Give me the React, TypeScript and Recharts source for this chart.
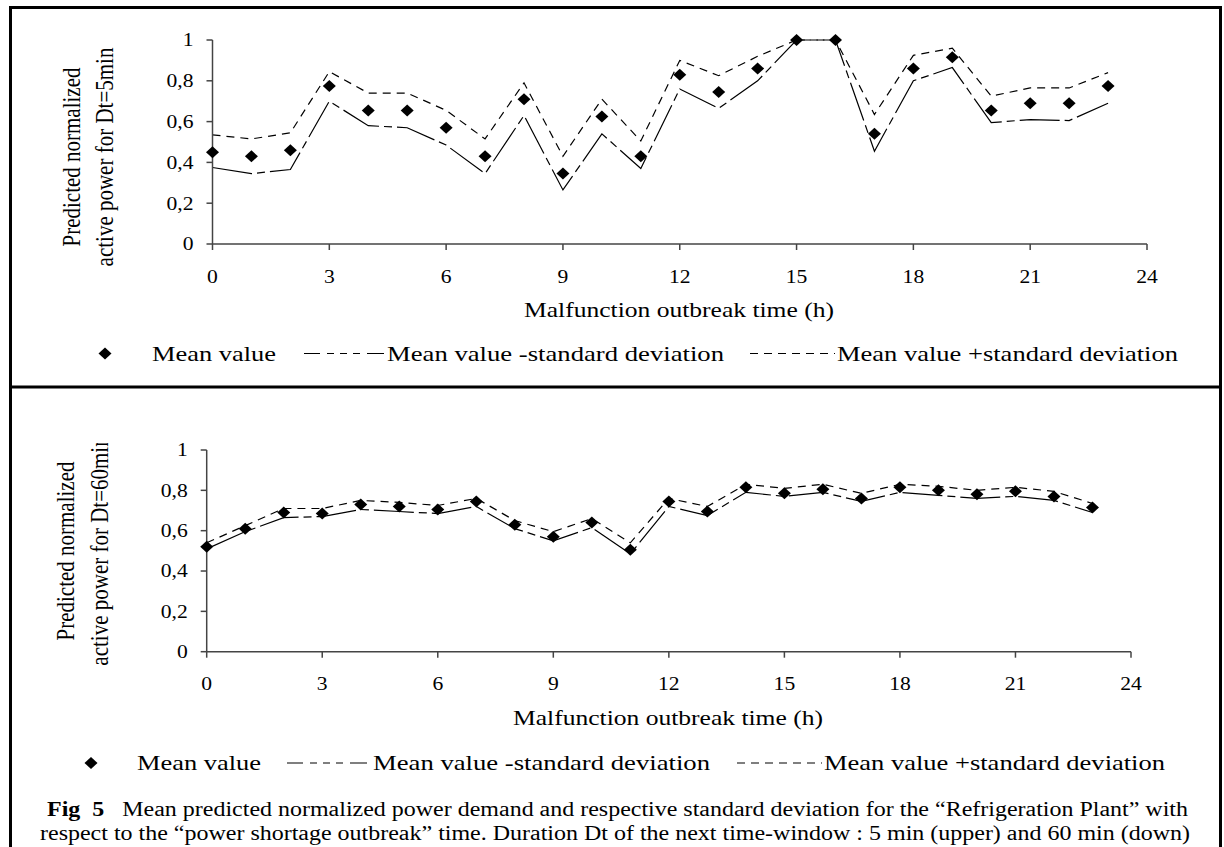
import { ComposedChart, Line, XAxis, YAxis } from 'recharts';

// hours of the malfunction outbreak
const HOURS = [0, 1, 2, 3, 4, 5, 6, 7, 8, 9, 10, 11, 12, 13, 14, 15, 16, 17, 18, 19, 20, 21, 22, 23];
const X_TICKS = [0, 3, 6, 9, 12, 15, 18, 21, 24];
const Y_TICKS = [0, 0.2, 0.4, 0.6, 0.8, 1];

// Dt = 5 min (upper panel)
const MEAN_5 = [0.45, 0.43, 0.46, 0.775, 0.655, 0.655, 0.57, 0.43, 0.71, 0.345, 0.625, 0.43, 0.83, 0.745, 0.86, 1.0, 1.0, 0.54, 0.86, 0.915, 0.655, 0.69, 0.69, 0.775];
const MINUS_5 = [0.375, 0.345, 0.365, 0.7, 0.58, 0.57, 0.485, 0.345, 0.63, 0.265, 0.54, 0.37, 0.76, 0.665, 0.8, 1.0, 1.0, 0.455, 0.8, 0.865, 0.595, 0.61, 0.605, 0.69];
const PLUS_5 = [0.535, 0.515, 0.545, 0.845, 0.74, 0.74, 0.655, 0.515, 0.79, 0.43, 0.71, 0.505, 0.9, 0.825, 0.92, 1.0, 1.0, 0.635, 0.925, 0.96, 0.725, 0.765, 0.765, 0.84];

// Dt = 60 min (lower panel)
const MEAN_60 = [0.52, 0.61, 0.69, 0.685, 0.73, 0.72, 0.705, 0.745, 0.63, 0.57, 0.64, 0.505, 0.745, 0.695, 0.815, 0.785, 0.805, 0.76, 0.815, 0.8, 0.78, 0.795, 0.77, 0.715];
const MINUS_60 = [0.51, 0.595, 0.665, 0.67, 0.705, 0.695, 0.685, 0.72, 0.61, 0.55, 0.615, 0.485, 0.72, 0.675, 0.79, 0.77, 0.79, 0.745, 0.79, 0.775, 0.76, 0.77, 0.75, 0.69];
const PLUS_60 = [0.54, 0.625, 0.71, 0.71, 0.75, 0.74, 0.725, 0.76, 0.65, 0.595, 0.66, 0.54, 0.76, 0.72, 0.83, 0.81, 0.83, 0.785, 0.83, 0.82, 0.8, 0.815, 0.795, 0.735];

const SERIF = '"Liberation Serif", "Times New Roman", Times, serif';
const UPPER_DASH = '8 6';
const LOWER_DASH = '40 5 8 5';
const AXIS = { stroke: '#444', strokeWidth: 1.5 };

const buildRows = (mean: number[], minus: number[], plus: number[]) =>
    HOURS.map((hour, i) => ({ hour, mean: mean[i], minus: minus[i], plus: plus[i] }));

const fmtY = (v: number) => (v === 0 || v === 1 ? String(v) : v.toFixed(1).replace('.', ','));

const XTick = (props: any) => {
    const { x, y, payload } = props;
    return (
        <text transform={`translate(${x},${y}) scale(1.2,1)`} textAnchor="middle" dy="0.71em" fontSize={18} fontFamily={SERIF} fill="#000">
            {payload.value}
        </text>
    );
};

const YTick = (props: any) => {
    const { x, y, payload } = props;
    return (
        <text transform={`translate(${x},${y}) scale(1.2,1)`} textAnchor="end" dy="0.35em" fontSize={18} fontFamily={SERIF} fill="#000">
            {fmtY(payload.value)}
        </text>
    );
};

const diamondPath = (cx: number, cy: number) => `M${cx},${cy - 6}L${cx + 6.5},${cy}L${cx},${cy + 6}L${cx - 6.5},${cy}Z`;

const renderDiamond = (props: any) => {
    const { cx, cy, index } = props;
    if (cx == null || cy == null) return <g key={`e-${index}`} />;
    return <path key={`d-${index}`} d={diamondPath(cx, cy)} fill="#000" />;
};

interface PanelProps {
    data: any[];
    top: number;
    margin: { top: number; right: number; bottom: number; left: number };
}

const Panel = ({ data, top, margin }: PanelProps) => (
    <div style={{ position: 'absolute', left: 0, top }}>
        <ComposedChart width={1224} height={300} data={data} margin={margin}>
            <XAxis
                type="number"
                dataKey="hour"
                domain={[0, 24]}
                ticks={X_TICKS}
                interval={0}
                height={30}
                tickSize={6}
                tickMargin={20}
                axisLine={AXIS}
                tickLine={AXIS}
                tick={<XTick />}
            />
            <YAxis
                type="number"
                domain={[0, 1]}
                ticks={Y_TICKS}
                interval={0}
                width={60}
                tickSize={6}
                tickMargin={13}
                axisLine={AXIS}
                tickLine={AXIS}
                tick={<YTick />}
            />
            <Line type="linear" dataKey="plus" stroke="#000" strokeWidth={1.2} strokeDasharray={UPPER_DASH} dot={false} activeDot={false} isAnimationActive={false} />
            <Line type="linear" dataKey="minus" stroke="#000" strokeWidth={1.2} strokeDasharray={LOWER_DASH} dot={false} activeDot={false} isAnimationActive={false} />
            <Line type="linear" dataKey="mean" stroke="none" dot={renderDiamond} activeDot={false} isAnimationActive={false} />
        </ComposedChart>
    </div>
);

const Txt = ({ x, y, len, size, children }: any) => (
    <text x={x} y={y} fontSize={size} fontFamily={SERIF} textLength={len} lengthAdjust="spacingAndGlyphs" style={{ whiteSpace: 'pre' }} fill="#000">
        {children}
    </text>
);

interface LegendProps {
    base: number;
    dx: number;
    meanX: number;
    lowX: number;
    lowTextX: number;
    upX: number;
    upTextX: number;
}

const LegendRow = ({ base, dx, meanX, lowX, lowTextX, upX, upTextX }: LegendProps) => {
    const cy = base - 7;
    return (
        <g>
            <path d={diamondPath(dx, cy)} fill="#000" />
            <Txt x={meanX} y={base} len={124} size={22}>Mean value</Txt>
            <line x1={lowX} x2={lowX + 80} y1={cy} y2={cy} stroke="#000" strokeWidth={1.2} strokeDasharray="16 7 7 6 7 6 7 7 17 1" />
            <Txt x={lowTextX} y={base} len={337} size={22}>Mean value -standard deviation</Txt>
            <line x1={upX} x2={upX + 85} y1={cy} y2={cy} stroke="#000" strokeWidth={1.2} strokeDasharray={UPPER_DASH} />
            <Txt x={upTextX} y={base} len={341} size={22}>Mean value +standard deviation</Txt>
        </g>
    );
};

const Overlay = () => (
    <svg width={1224} height={847} style={{ position: 'absolute', left: 0, top: 0, pointerEvents: 'none' }}>
        <defs>
            <clipPath id="clipTitle60">
                <rect x={0} y={443} width={300} height={300} />
            </clipPath>
        </defs>
        {/* frame */}
        <rect x={10.5} y={7.5} width={1210} height={860} fill="none" stroke="#000" strokeWidth={3} />
        <line x1={9} x2={1222} y1={387} y2={387} stroke="#000" strokeWidth={3} />

        {/* axis titles */}
        <g fontFamily={SERIF} fontSize={21} fill="#000" textAnchor="middle">
            <text transform="translate(80,157) scale(1.2,1) rotate(-90)">Predicted normalized</text>
            <text transform="translate(113,157) scale(1.2,1) rotate(-90)">active power for Dt=5min</text>
            <text transform="translate(74,551) scale(1.2,1) rotate(-90)">Predicted normalized</text>
            <g clipPath="url(#clipTitle60)">
                <text transform="translate(108,551) scale(1.2,1) rotate(-90)">active power for Dt=60min</text>
            </g>
        </g>
        <Txt x={524} y={317} len={310} size={21}>Malfunction outbreak time (h)</Txt>
        <Txt x={513} y={724.5} len={310} size={21}>Malfunction outbreak time (h)</Txt>

        <LegendRow base={360.5} dx={105} meanX={152} lowX={304} lowTextX={387} upX={750} upTextX={837} />
        <LegendRow base={770} dx={91} meanX={137} lowX={287} lowTextX={373} upX={737} upTextX={824} />

        {/* caption */}
        <text x={47} y={816} fontSize={20} fontFamily={SERIF} textLength={1141} lengthAdjust="spacingAndGlyphs" style={{ whiteSpace: 'pre' }} fill="#000">
            <tspan fontWeight="bold">Fig  5</tspan>
            <tspan>{'   Mean predicted normalized power demand and respective standard deviation for the \u201cRefrigeration Plant\u201d with'}</tspan>
        </text>
        <Txt x={40} y={840} len={1150} size={20}>
            {'respect to the \u201cpower shortage outbreak\u201d time. Duration Dt of the next time-window : 5 min (upper) and 60 min (down)'}
        </Txt>
    </svg>
);

export default function App() {
    const rows5 = buildRows(MEAN_5, MINUS_5, PLUS_5);
    const rows60 = buildRows(MEAN_60, MINUS_60, PLUS_60);
    return (
        <div style={{ position: 'absolute', left: 0, top: 0, width: 1224, height: 847, background: '#fff', overflow: 'hidden' }}>
            <Panel data={rows5} top={0} margin={{ top: 40, right: 77, bottom: 26, left: 152.5 }} />
            <Panel data={rows60} top={400} margin={{ top: 50, right: 93, bottom: 18.3, left: 146.7 }} />
            <Overlay />
        </div>
    );
}
